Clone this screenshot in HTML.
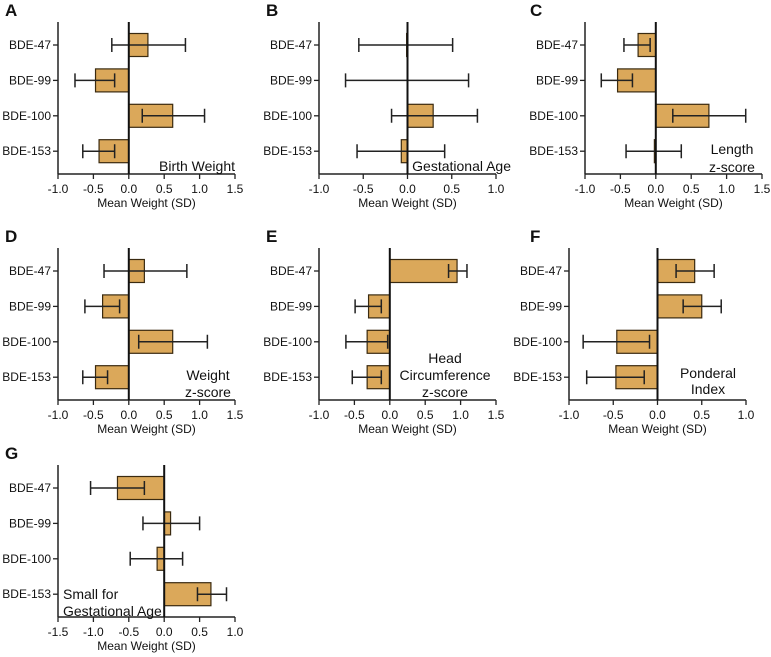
<!DOCTYPE html>
<html><head><meta charset="utf-8"><style>
body{margin:0;background:#fff}
svg{display:block;font-family:"Liberation Sans",Arial,sans-serif}
</style></head><body>
<svg id="fig" width="771" height="657" viewBox="0 0 771 657"></svg>
<script>
const categories = ["BDE-47","BDE-99","BDE-100","BDE-153"];
const meansA = [0.27,-0.47,0.62,-0.42];
const lowA = [-0.24,-0.76,0.19,-0.65];
const highA = [0.80,-0.20,1.07,-0.20];
const meansB = [-0.01,0.0,0.29,-0.07];
const lowB = [-0.55,-0.70,-0.18,-0.57];
const highB = [0.51,0.69,0.79,0.42];
const meansC = [-0.25,-0.54,0.75,-0.02];
const lowC = [-0.45,-0.77,0.24,-0.42];
const highC = [-0.08,-0.33,1.27,0.36];
const meansD = [0.22,-0.37,0.62,-0.47];
const lowD = [-0.35,-0.62,0.14,-0.65];
const highD = [0.82,-0.13,1.11,-0.30];
const meansE = [0.95,-0.30,-0.32,-0.32];
const lowE = [0.83,-0.49,-0.62,-0.53];
const highE = [1.09,-0.12,-0.03,-0.12];
const meansF = [0.42,0.50,-0.46,-0.47];
const lowF = [0.21,0.29,-0.84,-0.80];
const highF = [0.64,0.72,-0.09,-0.15];
const meansG = [-0.66,0.09,-0.10,0.66];
const lowG = [-1.04,-0.30,-0.48,0.47];
const highG = [-0.28,0.50,0.26,0.88];
const ticksAB15 = ["-1.0","-0.5","0.0","0.5","1.0","1.5"];
const ticksM1to1 = ["-1.0","-0.5","0.0","0.5","1.0"];
const ticksG = ["-1.5","-1.0","-0.5","0.0","0.5","1.0"];

const NS="http://www.w3.org/2000/svg";
const svg=document.getElementById('fig');
function mk(tag,attrs,parent){const e=document.createElementNS(NS,tag);for(const k in attrs)e.setAttribute(k,attrs[k]);(parent||svg).appendChild(e);return e;}

const panels=[
 {id:"a",letter:"A",lx:5,ly:16,x0:58,yTop:22,ticks:ticksAB15,means:meansA,low:lowA,high:highA,notes:[["Birth Weight",235,171,"end"]]},
 {id:"b",letter:"B",lx:266,ly:16,x0:319,yTop:22,ticks:ticksM1to1,means:meansB,low:lowB,high:highB,notes:[["Gestational Age",511,171,"end"]]},
 {id:"c",letter:"C",lx:530,ly:16,x0:585,yTop:22,ticks:ticksAB15,means:meansC,low:lowC,high:highC,notes:[["Length",732,154,"middle"],["z-score",732,172,"middle"]]},
 {id:"d",letter:"D",lx:5,ly:242,x0:58,yTop:248,ticks:ticksAB15,means:meansD,low:lowD,high:highD,notes:[["Weight",208,380,"middle"],["z-score",208,397,"middle"]]},
 {id:"e",letter:"E",lx:266,ly:242,x0:319,yTop:248,ticks:ticksAB15,means:meansE,low:lowE,high:highE,notes:[["Head",445,363,"middle"],["Circumference",445,380,"middle"],["z-score",445,397,"middle"]]},
 {id:"f",letter:"F",lx:530,ly:242,x0:569,yTop:248,ticks:ticksM1to1,means:meansF,low:lowF,high:highF,notes:[["Ponderal",708,378,"middle"],["Index",708,394,"middle"]]},
 {id:"g",letter:"G",lx:5,ly:459,x0:58,yTop:465,ticks:ticksG,means:meansG,low:lowG,high:highG,notes:[["Small for",63,599,"start"],["Gestational Age",63,616,"start"]]}
];

panels.forEach(p=>{
  const W=177,H=152;
  const vmin=parseFloat(p.ticks[0]),vmax=parseFloat(p.ticks[p.ticks.length-1]);
  const xs=v=>p.x0+(v-vmin)/(vmax-vmin)*W;
  const ys=i=>p.yTop+23+i*35.4;
  const yBot=p.yTop+H;
  const g=mk('g',{});
  
  
  const L=mk('text',{x:p.lx,y:p.ly,'font-size':17,'font-weight':'bold',fill:'#111'},g);
  L.textContent=p.letter;
  
  
  // axes
  const ya=mk('line',{x1:p.x0,y1:p.yTop,x2:p.x0,y2:yBot,stroke:'#222','stroke-width':1.5},g);
  
  
  const xa=mk('line',{x1:p.x0,y1:yBot,x2:p.x0+W,y2:yBot,stroke:'#222','stroke-width':1.5},g);
  
  
  p.ticks.forEach(t=>{
    const x=xs(parseFloat(t));
    mk('line',{x1:x,y1:yBot,x2:x,y2:yBot+5,stroke:'#222','stroke-width':1.3},g);
    const tl=mk('text',{x:x,y:yBot+19,'font-size':12,'text-anchor':'middle',fill:'#111'},g);
    tl.textContent=t;
    
    
  });
  const at=mk('text',{x:p.x0+W/2,y:yBot+33,'font-size':12,'text-anchor':'middle',fill:'#111'},g);
  at.textContent="Mean Weight (SD)";
  
  
  categories.forEach((c,i)=>{
    const y=ys(i);
    mk('line',{x1:p.x0-5,y1:y,x2:p.x0,y2:y,stroke:'#222','stroke-width':1.3},g);
    const cl=mk('text',{x:p.x0-7,y:y+4,'font-size':12,'text-anchor':'end',fill:'#111'},g);
    cl.textContent=c;
    
    
    const m=p.means[i],x0=xs(0),xm=xs(m);
    if(Math.abs(xm-x0)>0.5){
      const b=mk('rect',{x:Math.min(x0,xm),y:y-11.5,width:Math.abs(xm-x0),height:23,fill:'#dba85a',stroke:'#3a2a10','stroke-width':1.2},g);
      
      
    }
    const xl=xs(p.low[i]),xh=xs(p.high[i]);
    const eb=mk('path',{d:`M${xl},${y}H${xh}M${xl},${y-7}V${y+7}M${xh},${y-7}V${y+7}`,stroke:'#222','stroke-width':1.5,fill:'none'},g);
    
    
  });
  const z=mk('line',{x1:xs(0),y1:p.yTop,x2:xs(0),y2:yBot,stroke:'#111','stroke-width':2},g);
  
  
  p.notes.forEach(n=>{
    const t=mk('text',{x:n[1],y:n[2],'font-size':14,'text-anchor':n[3],fill:'#111'},g);
    t.textContent=n[0];
    
    
  });
});
</script>
</body></html>
